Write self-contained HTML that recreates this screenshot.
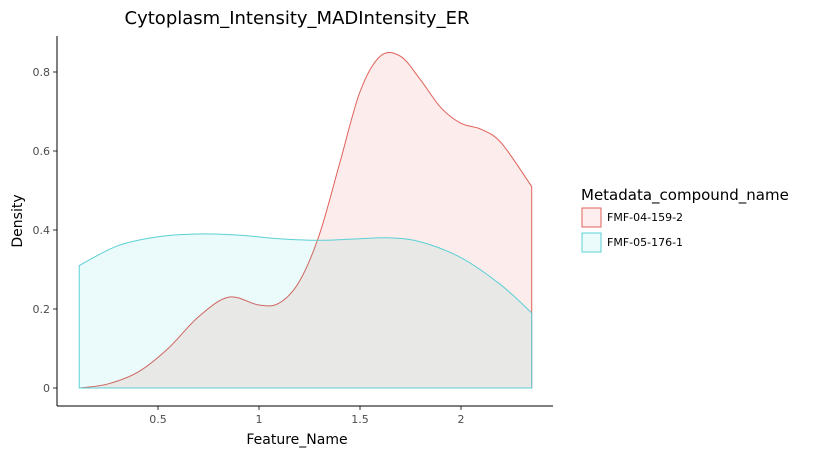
<!DOCTYPE html>
<html><head><meta charset="utf-8"><style>
body{margin:0;background:#fff;font-family:"DejaVu Sans","Liberation Sans",sans-serif}
</style></head><body>
<svg id="chart" width="819" height="458" xmlns="http://www.w3.org/2000/svg" font-family="DejaVu Sans, Liberation Sans, sans-serif">
<text x="297" y="24" font-size="18" text-anchor="middle" fill="#000">Cytoplasm_Intensity_MADIntensity_ER</text>
<g id="plot"></g>
<line x1="57" y1="36" x2="57" y2="406" stroke="#000"/>
<line x1="57" y1="406" x2="553" y2="406" stroke="#000"/>
<text x="297" y="444" text-anchor="middle" font-size="14">Feature_Name</text>
<text transform="translate(22,221) rotate(-90)" font-size="14" text-anchor="middle">Density</text>
<g>
<text x="581" y="200" font-size="15">Metadata_compound_name</text>
<rect x="582" y="208" width="19" height="19" fill="#F8766D" fill-opacity="0.12" stroke="#E0605A"/>
<text x="607" y="221" font-size="11">FMF-04-159-2</text>
<rect x="582" y="233" width="19" height="19" fill="#00BFC4" fill-opacity="0.08" stroke="#5BD0D5"/>
<text x="607" y="246" font-size="11">FMF-05-176-1</text>
</g>
</svg>
<script>
const xs = [0.11,0.25,0.4,0.55,0.7,0.85,1.0,1.1,1.2,1.3,1.4,1.5,1.6,1.7,1.8,1.9,2.0,2.1,2.2,2.35];
const redVals = [0,0.01,0.04,0.1,0.18,0.23,0.21,0.215,0.27,0.39,0.57,0.75,0.84,0.84,0.78,0.71,0.67,0.655,0.62,0.51];
const cyanX = [0.11,0.3,0.5,0.7,0.9,1.1,1.3,1.5,1.65,1.8,2.0,2.2,2.35];
const cyanVals = [0.31,0.36,0.383,0.39,0.387,0.378,0.374,0.378,0.38,0.37,0.33,0.26,0.19];
const xTicks = [0.5,1,1.5,2];
const xTickLabels = ["0.5","1","1.5","2"];
const yTicks = [0,0.2,0.4,0.6,0.8];
const yTickLabels = ["0","0.2","0.4","0.6","0.8"];
const NS="http://www.w3.org/2000/svg";
const sx=v=>57+202*v, sy=v=>388-395*v;
const g=document.getElementById('plot');
function smooth(px,py){let d='';for(let i=0;i<px.length-1;i++){const x0=px[i-1]??px[i],y0=py[i-1]??py[i],x3=px[i+2]??px[i+1],y3=py[i+2]??py[i+1];
const c1x=px[i]+(px[i+1]-x0)/6,c1y=py[i]+(py[i+1]-y0)/6,c2x=px[i+1]-(x3-px[i])/6,c2y=py[i+1]-(y3-py[i])/6;d+=` C${c1x},${c1y} ${c2x},${c2y} ${px[i+1]},${py[i+1]}`;}return d;}
function series(X,V,fill,stroke,op,name){
 const px=X.map(sx),py=V.map(sy);
 const p=document.createElementNS(NS,'path');
 p.setAttribute('d',`M${px[0]},${sy(0)} L${px[0]},${py[0]}`+smooth(px,py)+` L${px[px.length-1]},${sy(0)} Z`);
 p.setAttribute('fill',fill);p.setAttribute('fill-opacity',op);p.setAttribute('stroke',stroke);p.setAttribute('stroke-width','1');
 
 
 g.appendChild(p);
}
series(xs,redVals,'#E8605A','#E0605A','0.12','density-fmf-04-159-2');
series(cyanX,cyanVals,'#00BFC4','#5BD0D5','0.08','density-fmf-05-176-1');
xTicks.forEach((t,i)=>{
 const l=document.createElementNS(NS,'line');l.setAttribute('x1',sx(t));l.setAttribute('x2',sx(t));l.setAttribute('y1',406);l.setAttribute('y2',410);l.setAttribute('stroke','#333');
 
 
 g.appendChild(l);
 const tx=document.createElementNS(NS,'text');tx.setAttribute('x',sx(t));tx.setAttribute('y',423);tx.setAttribute('font-size','11');tx.setAttribute('fill','#4d4d4d');tx.setAttribute('text-anchor','middle');tx.textContent=xTickLabels[i];
 
 
 g.appendChild(tx);
});
yTicks.forEach((t,i)=>{
 const l=document.createElementNS(NS,'line');l.setAttribute('x1',53);l.setAttribute('x2',57);l.setAttribute('y1',sy(t));l.setAttribute('y2',sy(t));l.setAttribute('stroke','#333');
 
 
 g.appendChild(l);
 const tx=document.createElementNS(NS,'text');tx.setAttribute('x',50);tx.setAttribute('y',sy(t)+4);tx.setAttribute('font-size','11');tx.setAttribute('fill','#4d4d4d');tx.setAttribute('text-anchor','end');tx.textContent=yTickLabels[i];
 
 
 g.appendChild(tx);
});
</script>
</body></html>
